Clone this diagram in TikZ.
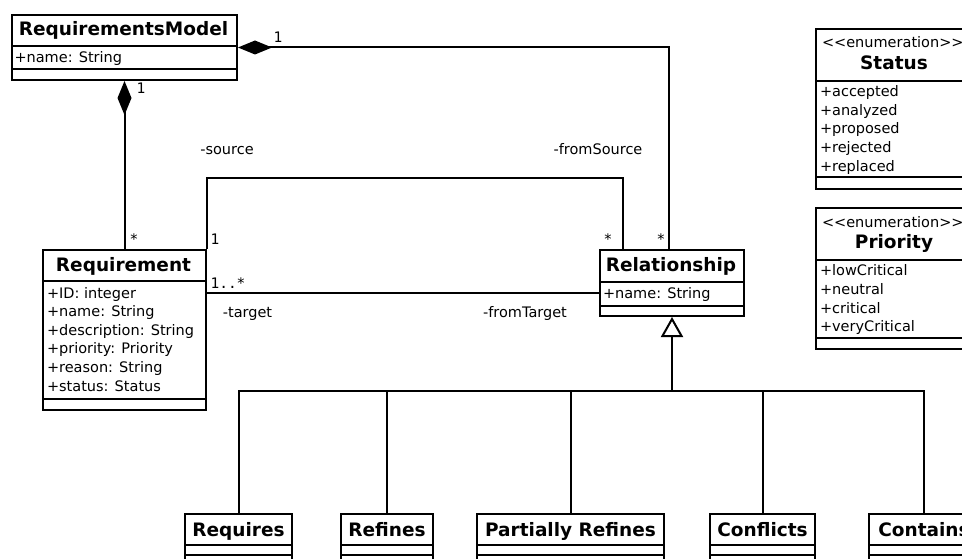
\documentclass[tikz,border=0pt]{standalone}
\usepackage{fontspec}
\setmainfont{DejaVu Sans}
\newfontfamily\multfont{DejaVu Sans Mono}
\usetikzlibrary{arrows.meta}

\begin{document}
\begin{tikzpicture}[x=1pt, y=-1pt, line width=2pt,
  cls/.style={draw, rectangle, inner sep=0pt, anchor=north west},
  ttl/.style={inner sep=0pt, anchor=base, font=\fontsize{18.5}{20}\selectfont\bfseries},
  attr/.style={inner sep=0pt, anchor=base west, font=\fontsize{14.5}{17}\selectfont},
  role/.style={inner sep=0pt, anchor=base, font=\fontsize{14.5}{17}\selectfont},
  mult/.style={inner sep=0pt, anchor=base, font=\fontsize{14.5}{17}\multfont},
  comp/.style={{Diamond[length=34pt,width=14pt]}-},
  gen/.style={-{Triangle[open,length=20pt,width=22pt]}},
]
\useasboundingbox (0,0) rectangle (962,559);
\clip (0,0) rectangle (962,559);

% ---------- class boxes ----------
\node[cls, minimum width=225pt, minimum height=65pt] (rm) at (11,14) {};
\draw (rm.west |- 0,46) -- (rm.east |- 0,46);
\draw (rm.west |- 0,69) -- (rm.east |- 0,69);
\node[ttl] (rm-t) at (123.5,35.5) {RequirementsModel};
\node[attr] (rm-a) at (13.5,62.5) {+name: String};

\node[cls, minimum width=163pt, minimum height=160pt] (req) at (42,249) {};
\draw (req.west |- 0,281) -- (req.east |- 0,281);
\draw (req.west |- 0,399) -- (req.east |- 0,399);
\node[ttl] (req-t) at (123.5,271.5) {Requirement};
\foreach \t [count=\i] in {+ID: integer, +name: String, +description: String,
    +priority: Priority, +reason: String, +status: Status}
  \node[attr] (req-a\i) at (46,{298+18.6*(\i-1)}) {\t};

\node[cls, minimum width=144pt, minimum height=66pt] (rel) at (599,249) {};
\draw (rel.west |- 0,282) -- (rel.east |- 0,282);
\draw (rel.west |- 0,306) -- (rel.east |- 0,306);
\node[ttl] (rel-t) at (671,271) {Relationship};
\node[attr] (rel-a) at (602,298) {+name: String};

% enumerations
\node[cls, minimum width=158pt, minimum height=160pt] (st) at (815,28) {};
\draw (st.west |- 0,81) -- (st.east |- 0,81);
\draw (st.west |- 0,177) -- (st.east |- 0,177);
\node[attr] (st-s) at (821,47.5) {<{}<enumeration>{}>};
\node[ttl] (st-t) at (894,70) {Status};
\foreach \t [count=\i] in {+accepted, +analyzed, +proposed, +rejected, +replaced}
  \node[attr] (st-a\i) at (819,{96.7+18.6*(\i-1)}) {\t};

\node[cls, minimum width=158pt, minimum height=141pt] (pr) at (815,207) {};
\draw (pr.west |- 0,260) -- (pr.east |- 0,260);
\draw (pr.west |- 0,338) -- (pr.east |- 0,338);
\node[attr] (pr-s) at (821,227) {<{}<enumeration>{}>};
\node[ttl] (pr-t) at (894,248.5) {Priority};
\foreach \t [count=\i] in {+lowCritical, +neutral, +critical, +veryCritical}
  \node[attr] (pr-a\i) at (819,{276+18.6*(\i-1)}) {\t};

% subclasses of Relationship
\foreach \n/\x/\w/\t in {requires/184/107/Requires, refines/340/92/Refines,
    partref/476/187/Partially Refines, conflicts/709/105/Conflicts,
    contains/868/110/Contains} {
  \node[cls, minimum width=\w pt, minimum height=70pt] (\n) at (\x,513) {};
  \draw (\n.west |- 0,545) -- (\n.east |- 0,545);
  \draw (\n.west |- 0,555) -- (\n.east |- 0,555);
  \node[ttl] (\n-t) at (\n.north |- 0,536) {\t};
}

% ---------- connectors ----------
\draw[comp] (rm.east) -| ([xshift=-3pt]rel.north);
\draw[comp] (rm.south) -- (req.north);
\draw (req.north east) -- ++(0,-71) -| ([xshift=24pt]rel.north west);
\coordinate (tgty) at (0,293);
\draw (req.east |- tgty) -- (rel.west |- tgty);

\coordinate (hub) at (rel.south |- 0,391);
\draw[gen] (hub) -- (rel.south);
\foreach \n in {requires, refines, partref, conflicts, contains}
  \draw (\n.north) |- (hub);

% ---------- multiplicities and roles ----------
\node[mult] (m1) at (278,42.5) {1};
\node[mult] (m2) at (141,94) {1};
\node[mult] (m3) at (134,244) {*};
\node[mult] (m4) at (215,244) {1};
\node[mult] (m5) at (228,288) {1..*};
\node[mult] (m6) at (608,244) {*};
\node[mult] (m7) at (661,244) {*};
\node[role] (r1) at (227,154.5) {-source};
\node[role] (r2) at (598,154.5) {-fromSource};
\node[role] (r3) at (247.5,317) {-target};
\node[role] (r4) at (525,317) {-fromTarget};
\end{tikzpicture}
\end{document}
